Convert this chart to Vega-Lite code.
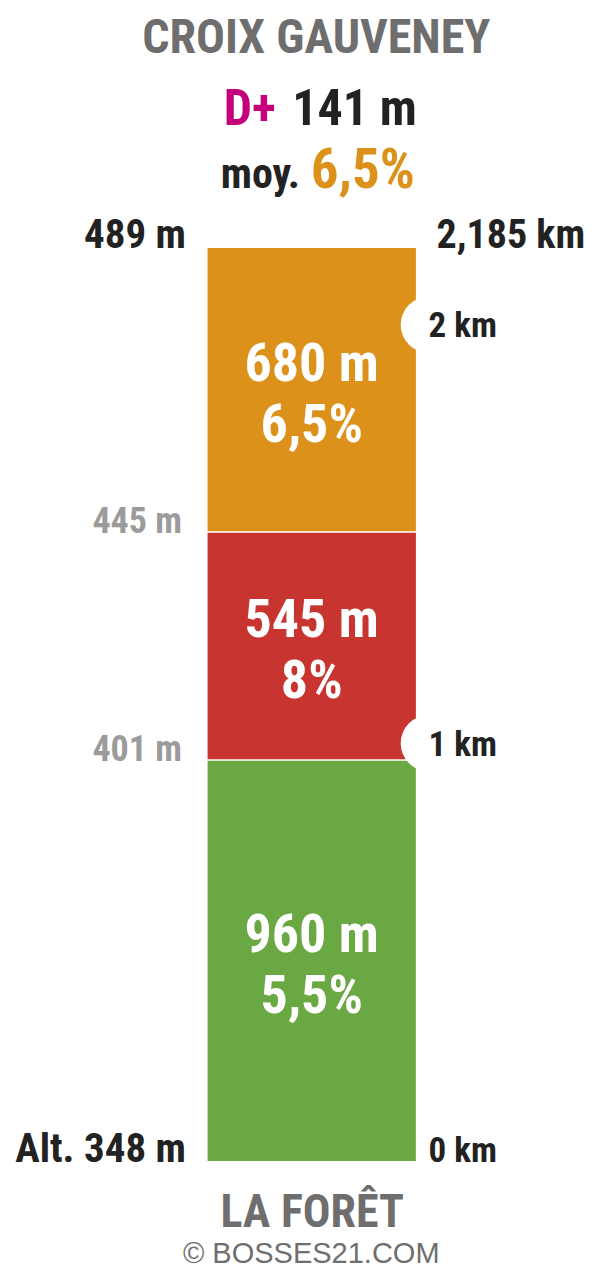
{
  "$schema": "https://vega.github.io/schema/vega-lite/v6.json",
  "width": 600,
  "height": 1280,
  "autosize": {"type": "none"},
  "padding": 0,
  "background": "white",
  "config": {
    "view": {"stroke": null},
    "axis": {"disable": true},
    "text": {"font": "Roboto Condensed, DejaVu Sans Condensed, sans-serif", "fontWeight": "bold", "baseline": "alphabetic"}
  },
  "datasets": {
    "segments": [
      {"start": 0, "end": 0.96, "length": "960 m", "grade": "5,5%"},
      {"start": 0.96, "end": 1.505, "length": "545 m", "grade": "8%"},
      {"start": 1.505, "end": 2.185, "length": "680 m", "grade": "6,5%"}
    ],
    "kmLabels": [
      {"km": 0, "label": "0 km"},
      {"km": 1, "label": "1 km"},
      {"km": 2, "label": "2 km"},
      {"km": 2.185, "label": "2,185 km"}
    ],
    "altitudes": [
      {"km": 0, "label": "Alt. 348 m"},
      {"km": 0.96, "label": "401 m"},
      {"km": 1.505, "label": "445 m"},
      {"km": 2.185, "label": "489 m"}
    ],
    "header": [
      {"climb": "CROIX GAUVENEY", "gain": "141 m", "avg": "6,5%", "from": "LA FORÊT", "credit": "© BOSSES21.COM", "km": 2.185, "startKm": 0}
    ]
  },
  "layer": [
    {
      "data": {"name": "segments"},
      "mark": {"type": "rect", "stroke": "white", "strokeWidth": 1.2},
      "encoding": {
        "x": {"datum": 0, "type": "quantitative", "scale": {"domain": [-0.988, 1.876], "nice": false, "zero": false}, "axis": null},
        "x2": {"datum": 1},
        "y": {"field": "start", "type": "quantitative", "scale": {"domain": [-0.2827, 2.7759], "nice": false, "zero": false}, "axis": null},
        "y2": {"field": "end"},
        "color": {"field": "length", "type": "nominal", "scale": {"domain": ["960 m", "545 m", "680 m"], "range": ["#6aa843", "#c8342f", "#dc911b"]}, "legend": null}
      }
    },
    {
      "data": {"name": "kmLabels"},
      "transform": [{"filter": "datum.km > 0 && datum.km < 2.1"}],
      "mark": {"type": "point", "filled": true, "shape": "circle", "size": 3180, "color": "white", "opacity": 1, "strokeWidth": 0, "xOffset": 12.4},
      "encoding": {
        "x": {"datum": 1, "type": "quantitative"},
        "y": {"field": "km", "type": "quantitative"}
      }
    },
    {
      "data": {"name": "segments"},
      "transform": [
        {"fold": ["start", "end"], "as": ["edge", "km"]},
        {"aggregate": [{"op": "mean", "field": "km", "as": "mid"}], "groupby": ["length", "grade"]}
      ],
      "mark": {"type": "text", "color": "white", "fontSize": 54, "dy": -9},
      "encoding": {
        "x": {"datum": 0.5, "type": "quantitative"},
        "y": {"field": "mid", "type": "quantitative"},
        "text": {"field": "length"}
      }
    },
    {
      "data": {"name": "segments"},
      "transform": [
        {"fold": ["start", "end"], "as": ["edge", "km"]},
        {"aggregate": [{"op": "mean", "field": "km", "as": "mid"}], "groupby": ["length", "grade"]}
      ],
      "mark": {"type": "text", "color": "white", "fontSize": 54, "dy": 52},
      "encoding": {
        "x": {"datum": 0.5, "type": "quantitative"},
        "y": {"field": "mid", "type": "quantitative"},
        "text": {"field": "grade"}
      }
    },
    {
      "data": {"name": "altitudes"},
      "transform": [{"filter": "datum.km == 0 || datum.km > 2.1"}],
      "mark": {"type": "text", "color": "#222222", "fontSize": 41, "align": "right", "dx": -21, "dy": 0.5},
      "encoding": {
        "x": {"datum": 0, "type": "quantitative"},
        "y": {"field": "km", "type": "quantitative"},
        "text": {"field": "label"}
      }
    },
    {
      "data": {"name": "altitudes"},
      "transform": [{"filter": "datum.km > 0 && datum.km < 2.1"}],
      "mark": {"type": "text", "color": "#9b9b9b", "fontSize": 36, "align": "right", "dx": -25, "dy": 1},
      "encoding": {
        "x": {"datum": 0, "type": "quantitative"},
        "y": {"field": "km", "type": "quantitative"},
        "text": {"field": "label"}
      }
    },
    {
      "data": {"name": "kmLabels"},
      "transform": [{"filter": "datum.km > 2.1"}],
      "mark": {"type": "text", "color": "#222222", "fontSize": 40, "align": "left", "dx": 20, "dy": 1},
      "encoding": {
        "x": {"datum": 1, "type": "quantitative"},
        "y": {"field": "km", "type": "quantitative"},
        "text": {"field": "label"}
      }
    },
    {
      "data": {"name": "kmLabels"},
      "transform": [{"filter": "datum.km > 0 && datum.km < 2.1"}],
      "mark": {"type": "text", "color": "#222222", "fontSize": 35, "align": "left", "dx": 12, "dy": 12.4},
      "encoding": {
        "x": {"datum": 1, "type": "quantitative"},
        "y": {"field": "km", "type": "quantitative"},
        "text": {"field": "label"}
      }
    },
    {
      "data": {"name": "kmLabels"},
      "transform": [{"filter": "datum.km == 0"}],
      "mark": {"type": "text", "color": "#222222", "fontSize": 35, "align": "left", "dx": 12, "dy": 0},
      "encoding": {
        "x": {"datum": 1, "type": "quantitative"},
        "y": {"field": "km", "type": "quantitative"},
        "text": {"field": "label"}
      }
    },
    {
      "data": {"name": "header"},
      "mark": {"type": "text", "color": "#6e6e6e", "fontSize": 48, "align": "center", "dx": 4.5, "dy": -194},
      "encoding": {
        "x": {"datum": 0.5, "type": "quantitative"},
        "y": {"field": "km", "type": "quantitative"},
        "text": {"field": "climb"}
      }
    },
    {
      "data": {"name": "header"},
      "mark": {"type": "text", "color": "#c4007a", "fontSize": 50, "align": "right", "dx": -36, "dy": -122, "text": "D+"},
      "encoding": {
        "x": {"datum": 0.5, "type": "quantitative"},
        "y": {"field": "km", "type": "quantitative"}
      }
    },
    {
      "data": {"name": "header"},
      "mark": {"type": "text", "color": "#222222", "fontSize": 50, "align": "left", "dx": -19.4, "dy": -122},
      "encoding": {
        "x": {"datum": 0.5, "type": "quantitative"},
        "y": {"field": "km", "type": "quantitative"},
        "text": {"field": "gain"}
      }
    },
    {
      "data": {"name": "header"},
      "mark": {"type": "text", "color": "#222222", "fontSize": 42, "align": "right", "dx": -11.7, "dy": -59, "text": "moy."},
      "encoding": {
        "x": {"datum": 0.5, "type": "quantitative"},
        "y": {"field": "km", "type": "quantitative"}
      }
    },
    {
      "data": {"name": "header"},
      "mark": {"type": "text", "color": "#dc911b", "fontSize": 55, "align": "left", "dx": -1, "dy": -59},
      "encoding": {
        "x": {"datum": 0.5, "type": "quantitative"},
        "y": {"field": "km", "type": "quantitative"},
        "text": {"field": "avg"}
      }
    },
    {
      "data": {"name": "header"},
      "mark": {"type": "text", "color": "#6e6e6e", "fontSize": 46, "align": "center", "dx": 0.5, "dy": 65.5},
      "encoding": {
        "x": {"datum": 0.5, "type": "quantitative"},
        "y": {"field": "startKm", "type": "quantitative"},
        "text": {"field": "from"}
      }
    },
    {
      "data": {"name": "header"},
      "mark": {"type": "text", "color": "#6f6f6f", "fontSize": 29, "fontWeight": "normal", "font": "Liberation Sans, Arial, sans-serif", "align": "center", "dx": -0.5, "dy": 101},
      "encoding": {
        "x": {"datum": 0.5, "type": "quantitative"},
        "y": {"field": "startKm", "type": "quantitative"},
        "text": {"field": "credit"}
      }
    }
  ]
}
